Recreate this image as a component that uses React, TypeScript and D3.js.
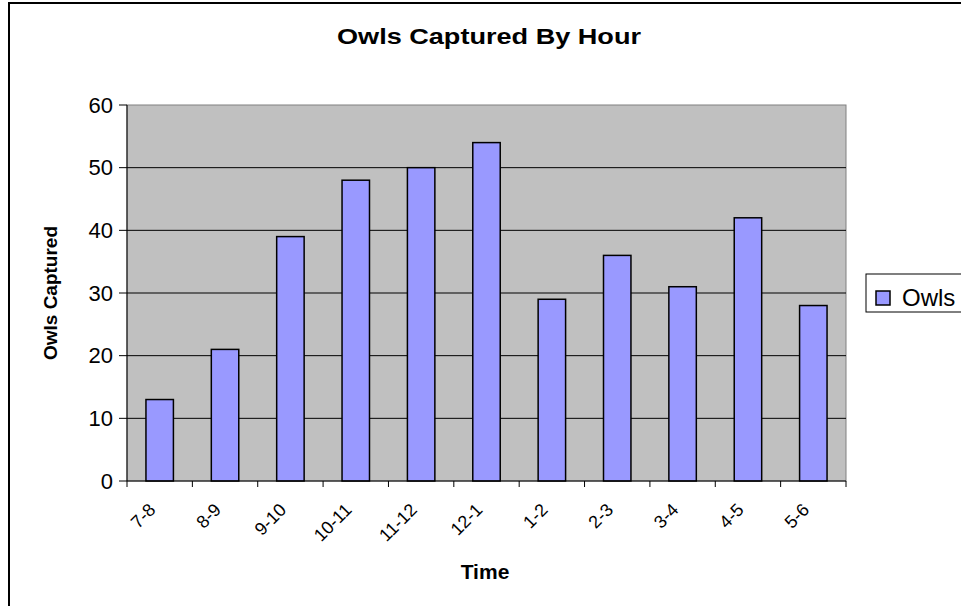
import React from "react";
import * as d3 from "d3";

const categories = ["7-8", "8-9", "9-10", "10-11", "11-12", "12-1", "1-2", "2-3", "3-4", "4-5", "5-6"];
const owls = [13, 21, 39, 48, 50, 54, 29, 36, 31, 42, 28];
const yTicks = [0, 10, 20, 30, 40, 50, 60];
const seriesName = "Owls";
const title = "Owls Captured By Hour";
const xTitle = "Time";
const yTitle = "Owls Captured";

const FONT = "'Liberation Sans', Arial, sans-serif";

export default function App() {
  const W = 961, H = 606;
  const left = 127, right = 846, top = 105, bottom = 481;
  const x = d3.scaleBand<string>().domain(categories).range([left, right]).padding(0);
  const y = d3.scaleLinear().domain([0, 60]).range([bottom, top]);
  const barW = x.bandwidth() * 0.42;
  const boundaries = categories.map((c) => x(c)!).concat([right]);

  return (
    <div style={{ position: "absolute", left: 0, top: 0 }}>
      <svg width={W} height={H} style={{ display: "block" }}>
        <rect x={0} y={0} width={W} height={H} fill="#fff" />
        <rect x={9} y={3} width={1100} height={800} fill="#fff" stroke="#000" strokeWidth={2} />
        <text x={489} y={44} textAnchor="middle" fontFamily={FONT} fontWeight="bold" fontSize={22}
          textLength={304} lengthAdjust="spacingAndGlyphs">{title}</text>
        {/* plot area */}
        <rect x={left} y={top} width={right - left} height={bottom - top} fill="#C0C0C0" stroke="#808080" strokeWidth={1} />
        {yTicks.filter((t) => t > 0 && t < 60).map((t) => (
          <line key={"g" + t} x1={left} x2={right} y1={y(t)} y2={y(t)} stroke="#000" strokeWidth={1} />
        ))}
        {categories.map((c, i) => (
          <rect key={c} x={x(c)! + (x.bandwidth() - barW) / 2} y={y(owls[i])} width={barW} height={y(0) - y(owls[i])}
            fill="#9999FF" stroke="#000" strokeWidth={1.5} />
        ))}
        <line x1={left} x2={left} y1={top} y2={bottom} stroke="#000" strokeWidth={1} />
        <line x1={left} x2={right} y1={bottom} y2={bottom} stroke="#000" strokeWidth={1} />
        {yTicks.map((t) => (
          <g key={"yt" + t}>
            <line x1={left - 8} x2={left} y1={y(t)} y2={y(t)} stroke="#000" strokeWidth={1} />
            <text x={113} y={y(t)} dy="0.35em" textAnchor="end" fontFamily={FONT} fontSize={22}>{t}</text>
          </g>
        ))}
        {boundaries.map((b, i) => (
          <line key={"xt" + i} x1={b} x2={b} y1={bottom} y2={bottom + 6} stroke="#000" strokeWidth={1} />
        ))}
        {categories.map((c) => {
          const cx = x(c)! + x.bandwidth() / 2 - 3;
          const cy = 511;
          return (
            <text key={"xl" + c} x={cx} y={cy} textAnchor="end" fontFamily={FONT} fontSize={18}
              transform={`rotate(-45 ${cx} ${cy})`}>{c}</text>
          );
        })}
        <text x={485} y={579} textAnchor="middle" fontFamily={FONT} fontWeight="bold" fontSize={21}>{xTitle}</text>
        <text x={0} y={0} textAnchor="middle" fontFamily={FONT} fontWeight="bold" fontSize={19}
          transform={`translate(57 293) rotate(-90)`}>{yTitle}</text>
        {/* legend */}
        <rect x={866} y={274} width={200} height={38} fill="#fff" stroke="#000" strokeWidth={1} />
        <rect x={876} y={291} width={14} height={14} fill="#9999FF" stroke="#000" strokeWidth={1.5} />
        <text x={902} y={306} fontFamily={FONT} fontSize={24}>{seriesName}</text>
      </svg>
    </div>
  );
}
